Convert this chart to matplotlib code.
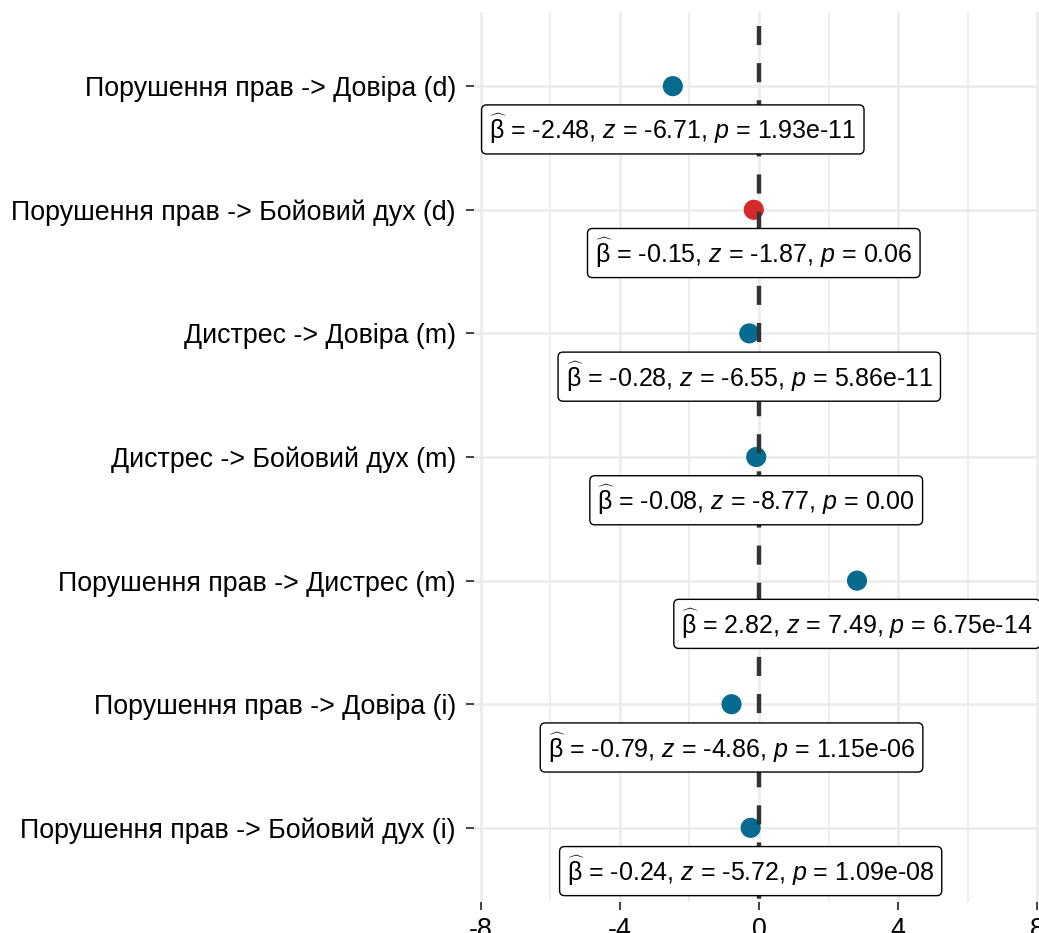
import matplotlib
matplotlib.use("Agg")
import matplotlib.pyplot as plt
import numpy as np

# data, top row first
terms = [
    "Порушення прав -> Довіра (d)",
    "Порушення прав -> Бойовий дух (d)",
    "Дистрес -> Довіра (m)",
    "Дистрес -> Бойовий дух (m)",
    "Порушення прав -> Дистрес (m)",
    "Порушення прав -> Довіра (i)",
    "Порушення прав -> Бойовий дух (i)",
]
estimates = [-2.48, -0.15, -0.28, -0.08, 2.82, -0.79, -0.24]
z_values = [-6.71, -1.87, -6.55, -8.77, 7.49, -4.86, -5.72]
p_values = ["1.93e-11", "0.06", "5.86e-11", "0.00", "6.75e-14", "1.15e-06", "1.09e-08"]
significant = [True, False, True, True, True, True, True]

plt.rcParams["font.family"] = ["Liberation Sans", "DejaVu Sans"]
plt.rcParams["mathtext.fontset"] = "custom"
plt.rcParams["mathtext.rm"] = "Liberation Sans"
plt.rcParams["mathtext.it"] = "Liberation Sans:italic"
plt.rcParams["mathtext.bf"] = "Liberation Sans:bold"
plt.rcParams["axes.unicode_minus"] = False

fig = plt.figure(figsize=(10.39, 9.33), dpi=100)
# panel runs a little past the right edge, like the cropped original
ax = fig.add_axes([474 / 1039, 31 / 933, 570 / 1039, 890 / 933])

ypos = np.arange(len(terms))
colors = ["#066b8f" if s else "#d62a2a" for s in significant]

ax.scatter(estimates, ypos, s=210, c=colors, zorder=3, edgecolors="none")
ax.plot([0, 0], [-0.6, len(terms) - 0.4], color="#333333", lw=3.2,
        ls=(5.2, (4.3, 4.05)), zorder=4, solid_capstyle="butt")

for y, est, zv, pv in zip(ypos, estimates, z_values, p_values):
    label = (r"$\widehat{\mathrm{\beta}}$ = " + f"{est:.2f}, " + r"$z$ = " + f"{zv:.2f}, "
             + r"$p$ = " + pv)
    ax.text(est, y + 0.35, label, ha="center", va="center", fontsize=18, zorder=5,
            bbox=dict(boxstyle="round,pad=0.3,rounding_size=0.2", fc="white",
                      ec="black", lw=1))

ax.set_xlim(-8.2, 8.2)
ax.set_ylim(len(terms) - 0.4, -0.6)
ax.set_xticks([-8, -4, 0, 4, 8])
ax.set_xticks([-6, -2, 2, 6], minor=True)
ax.set_yticks(ypos)
ax.set_yticklabels(terms)
ax.tick_params(axis="both", labelsize=19.3, color="#333333", length=6, width=1.3,
               labelcolor="black", pad=7)
ax.tick_params(axis="x", which="minor", length=0)
ax.tick_params(axis="x", pad=5)
ax.grid(True, which="major", color="#ebebeb", lw=1.8, zorder=0)
ax.grid(True, which="minor", axis="x", color="#ebebeb", lw=1.2, zorder=0)
ax.set_axisbelow(True)
for s in ax.spines.values():
    s.set_visible(False)

fig.savefig("out.png", dpi=100)
